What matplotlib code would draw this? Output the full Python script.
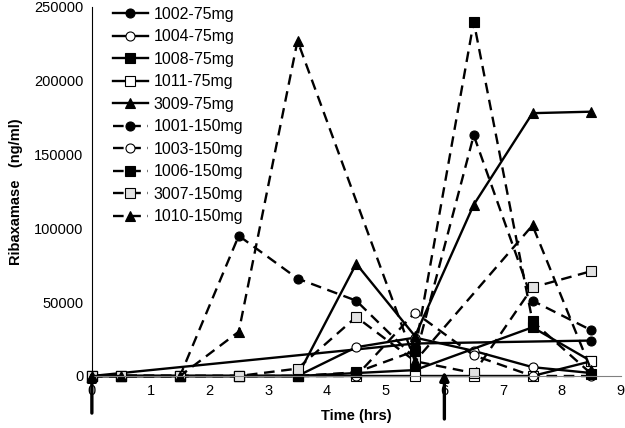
import matplotlib.pyplot as plt
import numpy as np

plt.rcParams['font.family'] = ['Liberation Sans', 'DejaVu Sans']

# 75 mg (solid lines)
t_1002 = [0, 5.5, 8.5]
v_1002 = [0, 22000, 24000]
t_1004 = [0, 0.5, 1.5, 2.5, 3.5, 4.5, 5.5, 6.5, 7.5, 8.5]
v_1004 = [0, 0, 0, 0, 0, 19500, 26000, 17000, 6000, 2000]
t_1008 = [0, 0.5, 1.5, 2.5, 3.5, 4.5, 5.5, 7.5, 8.5]
v_1008 = [0, 0, 0, 0, 0, 2000, 4000, 33000, 10000]
t_1011 = [0, 0.5, 1.5, 2.5, 3.5, 4.5, 5.5, 6.5, 7.5, 8.5]
v_1011 = [0, 0, 0, 0, 0, 0, 0, 0, 0, 10000]
t_3009 = [0, 0.5, 1.5, 2.5, 3.5, 4.5, 5.5, 6.5, 7.5, 8.5]
v_3009 = [0, 0, 0, 0, 0, 76000, 27000, 116000, 178000, 179000]

# 150 mg (dashed lines)
t_1001 = [0, 0.5, 1.5, 2.5, 3.5, 4.5, 5.5, 6.5, 7.5, 8.5]
v_1001 = [0, 0, 0, 95000, 66000, 51000, 12000, 163000, 51000, 31000]
t_1003 = [0, 0.5, 1.5, 2.5, 3.5, 4.5, 5.5, 6.5, 7.5, 8.5]
v_1003 = [0, 0, 0, 0, 0, 0, 43000, 14000, 0, 0]
t_1006 = [0, 0.5, 1.5, 2.5, 3.5, 4.5, 5.5, 6.5, 7.5, 8.5]
v_1006 = [0, 0, 0, 0, 0, 2500, 17000, 240000, 37000, 1500]
t_3007 = [0, 0.5, 1.5, 2.5, 3.5, 4.5, 5.5, 6.5, 7.5, 8.5]
v_3007 = [0, 0, 0, 0, 5000, 40000, 10000, 2000, 60000, 71000]
t_1010 = [0, 0.5, 1.5, 2.5, 3.5, 5.5, 7.5, 8.5]
v_1010 = [0, 0, 0, 30000, 227000, 10000, 102000, 4000]

series = [
    ('1002-75mg', t_1002, v_1002, 'o', 'black', '-'),
    ('1004-75mg', t_1004, v_1004, 'o', 'white', '-'),
    ('1008-75mg', t_1008, v_1008, 's', 'black', '-'),
    ('1011-75mg', t_1011, v_1011, 's', 'white', '-'),
    ('3009-75mg', t_3009, v_3009, '^', 'black', '-'),
    ('1001-150mg', t_1001, v_1001, 'o', 'black', '--'),
    ('1003-150mg', t_1003, v_1003, 'o', 'white', '--'),
    ('1006-150mg', t_1006, v_1006, 's', 'black', '--'),
    ('3007-150mg', t_3007, v_3007, 's', '#e2e2e2', '--'),
    ('1010-150mg', t_1010, v_1010, '^', 'black', '--'),
]

fig = plt.figure(figsize=(6.25, 4.28), dpi=100)
ax = fig.add_axes([0.147, 0.1215, 0.846, 0.8625])

for nome, t, v, mk, cor, ls in series:
    estilo = (0, (4.5, 2.8)) if ls == '--' else '-'
    ax.plot(t, v, linestyle=estilo, color='black', linewidth=1.7,
            marker=mk, markersize=6.5, markerfacecolor=cor,
            markeredgecolor='black', markeredgewidth=0.8, label=nome,
            clip_on=False)

ax.set_xlim(0, 9)
ax.set_ylim(0, 250000)
ax.set_xticks(range(0, 10))
ax.set_yticks(range(0, 250001, 50000))
ax.tick_params(length=0, labelsize=10.5, pad=6)
ax.spines['top'].set_visible(False)
ax.spines['right'].set_visible(False)
ax.spines['bottom'].set_color('#808080')
ax.spines['bottom'].set_linewidth(0.8)
ax.spines['left'].set_linewidth(0.8)

ax.set_xlabel('Time (hrs)', fontsize=10.5, fontweight='bold', labelpad=8)
ax.set_ylabel('Ribaxamase   (ng/ml)', fontsize=10.5, fontweight='bold', labelpad=8)

# setas de dose
for xd, base in [(0, -27000), (6, -31000)]:
    ax.annotate('', xy=(xd, 5000), xytext=(xd, base),
                xycoords='data', textcoords='data',
                arrowprops=dict(arrowstyle='-|>', color='black', lw=2.4,
                                mutation_scale=13), annotation_clip=False,
                zorder=6)

ax.legend(loc='upper left', bbox_to_anchor=(0.027, 1.018), frameon=False,
          fontsize=11.5, handlelength=2.2, labelspacing=0.47,
          handletextpad=0.35, borderaxespad=0)

fig.savefig('out.png', dpi=100)
